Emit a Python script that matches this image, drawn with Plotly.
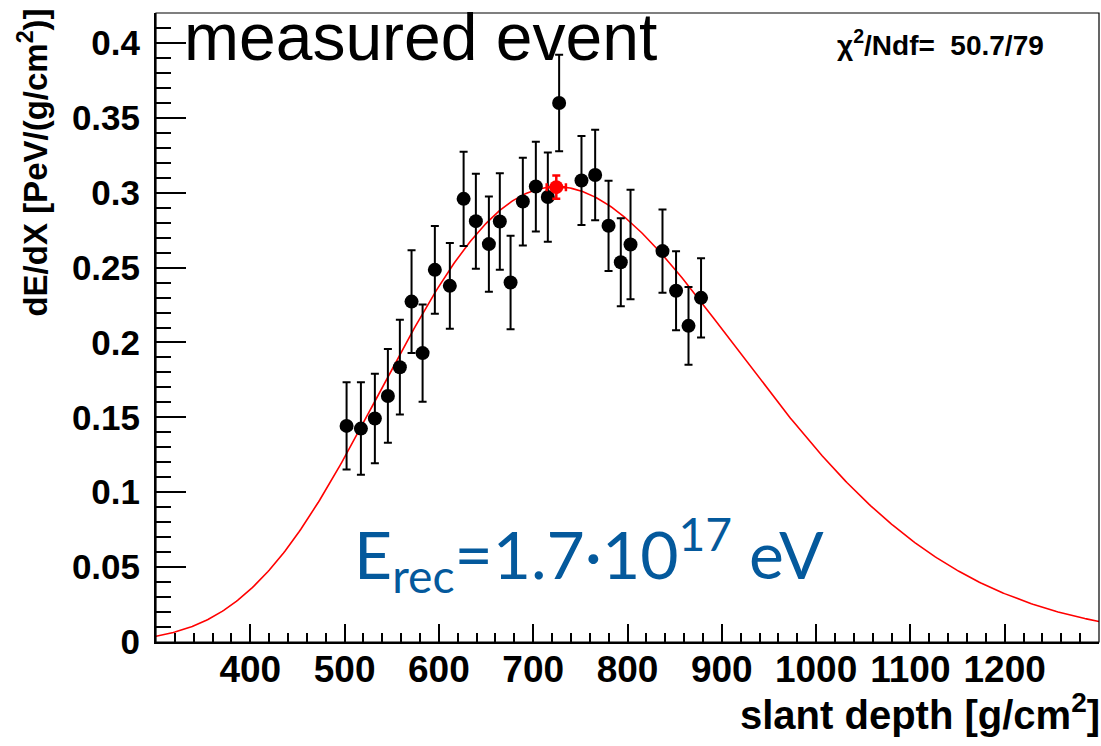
import numpy as np
import plotly.graph_objects as go

# ---- data ----
depth = [502.1, 517.3, 532.1, 545.9, 558.6, 571.0, 582.7, 595.7, 611.6, 626.2,
         639.2, 653.0, 664.6, 676.0, 689.0, 702.8, 715.5, 727.5, 751.2, 765.7,
         779.9, 792.9, 803.2, 837.1, 851.5, 864.7, 878.0]
dedx = [0.1443, 0.1425, 0.1492, 0.1643, 0.1835, 0.2273, 0.1929, 0.2485, 0.2378, 0.2959,
        0.2810, 0.2657, 0.2808, 0.2400, 0.2941, 0.3041, 0.2971, 0.3599, 0.3082, 0.3118,
        0.2779, 0.2536, 0.2654, 0.2610, 0.2345, 0.2111, 0.2298]
dedx_err = [0.0292, 0.0309, 0.0299, 0.0313, 0.0316, 0.0343, 0.0324, 0.0293, 0.0287, 0.0315,
            0.0317, 0.0318, 0.0322, 0.0312, 0.0293, 0.0300, 0.0298, 0.0322, 0.0297, 0.0302,
            0.0301, 0.0294, 0.0366, 0.0278, 0.0264, 0.0260, 0.0265]

# reconstructed shower maximum
xmax = [724.5]
xmax_err = [10.2]
nmax = [0.3037]
nmax_err = [0.0078]

# Gaisser-Hillas fit parameters
gh_xmax = 724.5
gh_nmax = 0.304
gh_x0 = 0.0
gh_lambda = 49.0

x_range = [300, 1300]
y_range = [0, 0.42]
x_tickvals = [400, 500, 600, 700, 800, 900, 1000, 1100, 1200]
x_ticktext = ["400", "500", "600", "700", "800", "900", "1000", "1100", "1200"]
y_tickvals = [0, 0.05, 0.1, 0.15, 0.2, 0.25, 0.3, 0.35, 0.4]
y_ticktext = ["0", "0.05", "0.1", "0.15", "0.2", "0.25", "0.3", "0.35", "0.4"]

chi2_text = "χ<sup>2</sup>/Ndf=  50.7/79"
energy_text = "E<sub>rec</sub>=1.7·10<sup>17</sup> eV"

# ---- fit curve (TF1 evaluated over the axis range) ----
xf = np.linspace(x_range[0], x_range[1], 600)
w = gh_xmax - gh_x0
yf = gh_nmax * ((xf - gh_x0) / w) ** (w / gh_lambda) * np.exp((gh_xmax - xf) / gh_lambda)

fig = go.Figure()
fig.add_trace(go.Scatter(x=xf, y=yf, mode="lines",
                         line=dict(color="#ff0000", width=1.6), hoverinfo="skip"))
fig.add_trace(go.Scatter(
    x=depth, y=dedx, mode="markers",
    marker=dict(color="black", size=14),
    error_y=dict(type="data", array=dedx_err, color="black", thickness=2, width=4)))
fig.add_trace(go.Scatter(
    x=xmax, y=nmax, mode="markers",
    marker=dict(color="#ff0000", size=14),
    error_x=dict(type="data", array=xmax_err, color="#ff0000", thickness=2.5, width=4),
    error_y=dict(type="data", array=nmax_err, color="#ff0000", thickness=2.5, width=4)))

fig.update_layout(
    width=1101, height=746,
    margin=dict(l=156, r=2, t=13, b=104),
    paper_bgcolor="white", plot_bgcolor="white",
    showlegend=False,
    xaxis=dict(range=x_range, showgrid=False, zeroline=False, automargin=False,
               showline=True, linecolor="black", linewidth=2,
               ticks="inside", ticklen=18, tickwidth=1.5, tickcolor="black",
               tickvals=x_tickvals, ticktext=x_ticktext,
               tickfont=dict(family="Liberation Sans", size=37, color="black", weight="bold"),
               ticklabelstandoff=-6,
               minor=dict(ticks="inside", ticklen=9, tickwidth=1.5, tickcolor="black", dtick=20,
                          showgrid=False)),
    yaxis=dict(range=y_range, showgrid=False, zeroline=False, automargin=False,
               showline=True, linecolor="black", linewidth=2,
               ticks="inside", ticklen=30, tickwidth=1.5, tickcolor="black",
               tickvals=y_tickvals, ticktext=y_ticktext,
               tickfont=dict(family="Liberation Sans", size=35, color="black", weight="bold"),
               ticklabelstandoff=7,
               minor=dict(ticks="inside", ticklen=15, tickwidth=1.5, tickcolor="black", dtick=0.01,
                          showgrid=False)),
)

# frame top/right
fig.add_shape(type="rect", xref="paper", yref="paper", x0=0, x1=1, y0=0, y1=1,
              line=dict(color="black", width=1.2), layer="above")

# axis titles
fig.add_annotation(xref="paper", yref="paper", x=1.003, y=-0.112, xanchor="right", yanchor="middle",
                   text="<b>slant depth [g/cm<sup>2</sup>]</b>", showarrow=False,
                   font=dict(family="Liberation Sans", size=40, color="black"))
fig.add_annotation(xref="paper", yref="paper", x=-0.155, y=1.01, xanchor="left", yanchor="top",
                   text="<b>dE/dX [PeV/(g/cm<sup>2</sup>)]</b>", showarrow=False, textangle=-90,
                   font=dict(family="Liberation Sans", size=33, color="black"))

# texts
fig.add_annotation(xref="paper", yref="paper", x=0.028, y=0.962, xanchor="left", yanchor="middle",
                   text="measured event", showarrow=False,
                   font=dict(family="Liberation Sans", size=66, color="black"))
fig.add_annotation(xref="paper", yref="paper", x=0.9438, y=0.952, xanchor="right", yanchor="middle",
                   text="<b>" + chi2_text + "</b>", showarrow=False,
                   font=dict(family="Liberation Sans", size=28, color="black"))
fig.add_annotation(xref="paper", yref="paper", x=0.2077, y=0.14, xanchor="left", yanchor="middle",
                   text=energy_text, showarrow=False,
                   font=dict(family="Lato", size=66, color="#04599c"))

fig.write_html(
    "out.html",
    config={"displayModeBar": False},
    post_script="document.body.style.margin='0';"
                "document.body.style.overflow='hidden';"
                "document.documentElement.style.overflow='hidden';",
)
